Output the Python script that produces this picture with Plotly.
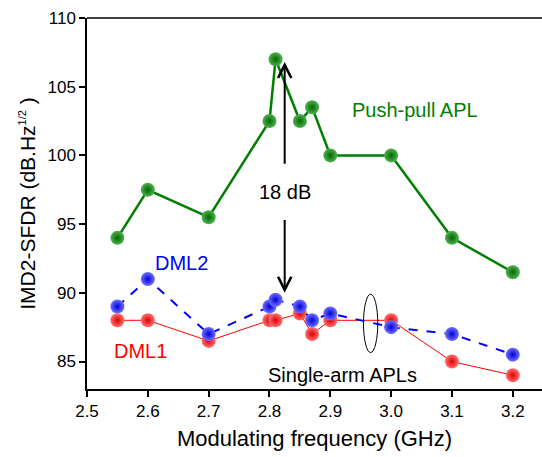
import plotly.graph_objects as go

freq_pp = [2.55, 2.6, 2.7, 2.8, 2.81, 2.85, 2.87, 2.9, 3.0, 3.1, 3.2]
sfdr_pp = [94, 97.5, 95.5, 102.5, 107, 102.5, 103.5, 100, 100, 94, 91.5]

freq_dml = [2.55, 2.6, 2.7, 2.8, 2.81, 2.85, 2.87, 2.9, 3.0, 3.1, 3.2]
sfdr_dml2 = [89, 91, 87, 89, 89.5, 89, 88, 88.5, 87.5, 87, 85.5]
sfdr_dml1 = [88, 88, 86.5, 88, 88, 88.5, 87, 88, 88, 85, 84]

x_ticks = [2.5, 2.6, 2.7, 2.8, 2.9, 3.0, 3.1, 3.2]
x_tick_labels = ["2.5", "2.6", "2.7", "2.8", "2.9", "3.0", "3.1", "3.2"]
y_ticks = [85, 90, 95, 100, 105, 110]

FONT = "Liberation Sans, Arial, sans-serif"

def marker(c_center, c_edge):
    return dict(size=14, color=c_center, line=dict(width=0),
                gradient=dict(type="radial", color=c_edge))

fig = go.Figure()
fig.add_trace(go.Scatter(x=freq_dml, y=sfdr_dml1, mode="lines+markers",
                         line=dict(color="#ff0000", width=1),
                         marker=marker("#ff7070", "#e00000"), name="DML1"))
fig.add_trace(go.Scatter(x=freq_dml, y=sfdr_dml2, mode="lines+markers",
                         line=dict(color="#0000ff", width=2, dash="dash"),
                         marker=marker("#7070ff", "#0000d8"), name="DML2"))
fig.add_trace(go.Scatter(x=freq_pp, y=sfdr_pp, mode="lines+markers",
                         line=dict(color="#008000", width=2.5),
                         marker=marker("#50b050", "#006a00"), name="Push-pull APL"))

ann = []
# double arrow (split around text)
ann.append(dict(x=2.825, y=106.8, ax=2.825, ay=98.6, xref="x", yref="y",
                axref="x", ayref="y", text=" ", showarrow=True, arrowhead=5,
                arrowsize=1.3, arrowwidth=2, arrowcolor="black", standoff=0))
ann.append(dict(x=2.825, y=90.0, ax=2.825, ay=96.1, xref="x", yref="y",
                axref="x", ayref="y", text=" ", showarrow=True, arrowhead=5,
                arrowsize=1.3, arrowwidth=2, arrowcolor="black", standoff=0))
ann.append(dict(x=2.826, y=97.35, xref="x", yref="y", text="18 dB", showarrow=False,
                font=dict(family=FONT, size=20, color="black")))
ann.append(dict(x=3.04, y=103.3, xref="x", yref="y", text="Push-pull APL", showarrow=False,
                font=dict(family=FONT, size=20, color="#008000")))
ann.append(dict(x=2.656, y=92.2, xref="x", yref="y", text="DML2", showarrow=False,
                font=dict(family=FONT, size=20, color="#0000ff")))
ann.append(dict(x=2.5875, y=85.75, xref="x", yref="y", text="DML1", showarrow=False,
                font=dict(family=FONT, size=20, color="#ff0000")))
ann.append(dict(x=2.92, y=84.0, xref="x", yref="y", text="Single-arm APLs", showarrow=False,
                font=dict(family=FONT, size=20, color="black")))

shapes = [
    dict(type="circle", xref="x", yref="y", x0=2.9545, x1=2.978, y0=85.65, y1=89.9,
         line=dict(color="black", width=1)),
    dict(type="line", xref="paper", yref="paper", x0=0, x1=1, y0=1, y1=1,
         line=dict(color="black", width=1.5)),
]

fig.update_layout(
    width=542, height=457,
    margin=dict(l=87, r=0, t=18, b=68),
    paper_bgcolor="white", plot_bgcolor="white",
    showlegend=False,
    font=dict(family=FONT, size=17, color="black"),
    annotations=ann, shapes=shapes,
    xaxis=dict(range=[2.5, 3.248], tickvals=x_ticks, ticktext=x_tick_labels,
               showline=True, linecolor="black", linewidth=1.5, ticks="outside",
               ticklen=6, tickwidth=1.5, tickcolor="black", showgrid=False, zeroline=False,
               title=dict(text="Modulating frequency (GHz)", font=dict(size=22), standoff=10),
               tickfont=dict(size=17)),
    yaxis=dict(range=[83, 110], tickvals=y_ticks,
               showline=True, linecolor="black", linewidth=1.5, ticks="outside",
               ticklen=6, tickwidth=1.5, tickcolor="black", showgrid=False, zeroline=False,
               title=dict(text="IMD2-SFDR (dB.Hz<sup><span style='font-size:11px'>1/2</span></sup> )",
                          font=dict(size=21), standoff=6),
               tickfont=dict(size=17)),
)

fig.write_html("out.html")
